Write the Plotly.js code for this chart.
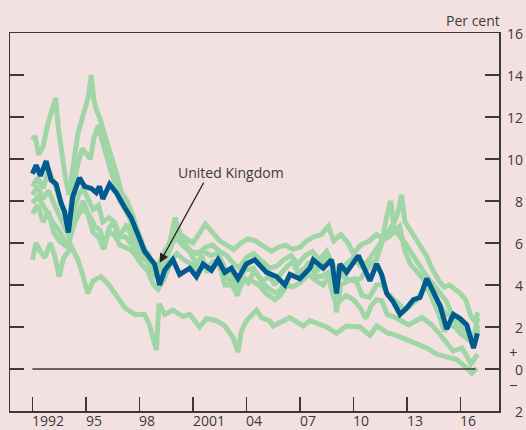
<!DOCTYPE html>
<html>
<head>
<meta charset="utf-8">
<script src="https://cdn.plot.ly/plotly-3.0.1.min.js"></script>
<style>
html,body{margin:0;padding:0;background:#f3e1e2;}
#chart{width:526px;height:430px;}
</style>
</head>
<body>
<div id="chart"></div>
<script>
// ---- Data (decimal years, per cent) ----
const ukYears = [1992.0,1992.21,1992.45,1992.77,1993.05,1993.33,1993.61,1993.8,1994.02,1994.26,1994.64,1994.92,1995.3,1995.58,1995.76,1995.95,1996.33,1996.7,1997.17,1997.54,1997.92,1998.29,1998.57,1998.85,1999.13,1999.42,1999.88,2000.26,2000.82,2001.2,2001.57,2002.04,2002.41,2002.79,2003.16,2003.53,2004.0,2004.47,2005.13,2005.69,2006.16,2006.44,2007.0,2007.56,2007.75,2008.31,2008.78,2009.06,2009.25,2009.62,2010.28,2010.56,2010.93,2011.31,2011.59,2011.87,2012.24,2012.62,2012.99,2013.37,2013.74,2014.12,2014.49,2014.87,2015.24,2015.61,2015.99,2016.36,2016.74,2016.96];
const ukValues = [9.3,9.7,9.2,9.9,9.0,8.8,7.9,7.5,6.5,8.2,9.1,8.7,8.6,8.4,8.7,8.1,8.8,8.4,7.7,7.2,6.4,5.6,5.3,5.0,4.0,4.7,5.2,4.5,4.8,4.4,5.0,4.7,5.2,4.6,4.8,4.3,5.0,5.2,4.6,4.4,4.0,4.5,4.3,4.8,5.2,4.8,5.2,3.6,5.0,4.6,5.4,4.9,4.2,5.0,4.5,3.6,3.2,2.6,2.9,3.3,3.4,4.3,3.6,3.0,1.9,2.6,2.4,2.1,1.0,1.7];

const aYears = [1992.0,1992.15,1992.35,1992.6,1992.85,1993.05,1993.3,1993.45,1993.65,1993.85,1994.05,1994.3,1994.55,1994.75,1994.95,1995.15,1995.3,1995.45,1995.6,1995.8,1996.0,1996.25,1996.5,1996.75,1997.0,1997.3,1997.6,1997.9,1998.2,1998.5,1998.8,1999.05,1999.4,1999.7,2000.0,2000.4,2000.8,2001.2,2001.6,2002.0,2002.4,2002.8,2003.2,2003.5,2003.9,2004.4,2004.9,2005.3,2005.7,2006.1,2006.5,2007.0,2007.5,2008.0,2008.5,2008.9,2009.2,2009.6,2010.0,2010.4,2010.9,2011.3,2011.6,2011.85,2012.1,2012.3,2012.6,2012.9,2013.2,2013.6,2014.0,2014.4,2014.8,2015.1,2015.4,2015.7,2016.0,2016.3,2016.6,2016.8,2017.0];
const aValues = [10.9,11.1,10.2,10.6,11.6,12.2,12.9,11.5,10.2,9.1,8.3,9.8,11.2,11.8,12.4,13.0,14.0,12.8,12.3,11.9,11.3,10.5,9.9,9.2,8.4,8.0,7.4,6.6,5.9,5.4,4.9,4.5,5.0,5.6,6.3,5.9,5.6,5.5,5.6,5.4,5.5,4.8,4.5,4.0,4.7,4.8,4.1,3.8,3.6,4.0,4.5,4.4,5.0,4.7,5.3,4.8,4.6,4.3,4.2,4.3,4.9,5.2,6.0,7.2,8.0,6.6,6.8,5.6,5.0,4.6,4.2,3.4,2.6,1.8,2.1,2.0,1.7,1.5,1.3,1.6,2.1];

const bYears = [1992.0,1992.3,1992.6,1992.9,1993.2,1993.5,1993.8,1994.05,1994.3,1994.55,1994.8,1995.05,1995.25,1995.45,1995.7,1995.9,1996.15,1996.4,1996.65,1996.9,1997.2,1997.5,1997.8,1998.1,1998.45,1998.8,1999.05,1999.4,1999.75,2000.0,2000.3,2000.7,2001.0,2001.4,2001.7,2002.1,2002.5,2002.9,2003.3,2003.7,2004.1,2004.5,2005.0,2005.4,2005.8,2006.2,2006.6,2007.0,2007.4,2007.8,2008.2,2008.6,2008.9,2009.3,2009.7,2010.0,2010.4,2010.9,2011.3,2011.7,2012.0,2012.3,2012.55,2012.7,2012.9,2013.2,2013.5,2013.8,2014.1,2014.4,2014.8,2015.1,2015.4,2015.7,2016.0,2016.3,2016.6,2016.8,2017.0];
const bValues = [8.7,9.1,8.6,9.5,8.9,8.2,7.4,7.1,8.7,9.8,10.5,10.2,10.0,11.0,11.6,10.9,10.2,9.6,8.9,8.0,7.6,7.1,6.3,5.8,5.2,4.6,4.6,5.2,6.2,7.2,6.4,6.2,6.0,6.5,6.9,6.5,6.1,5.9,5.7,6.0,6.2,6.1,5.8,5.6,5.8,5.9,5.7,5.8,6.1,6.3,6.4,6.8,6.1,6.4,6.0,5.5,5.9,6.1,6.4,6.2,6.6,7.0,7.6,8.3,7.0,6.6,6.1,5.7,5.4,4.8,4.2,3.9,4.0,3.8,3.6,3.3,2.5,2.3,2.7];

const cYears = [1992.0,1992.3,1992.6,1992.9,1993.2,1993.5,1993.8,1994.05,1994.3,1994.6,1994.85,1995.1,1995.4,1995.7,1995.95,1996.3,1996.6,1996.9,1997.2,1997.5,1997.8,1998.1,1998.4,1998.75,1999.0,1999.4,1999.8,2000.1,2000.5,2000.9,2001.3,2001.7,2002.1,2002.5,2002.9,2003.3,2003.6,2004.0,2004.4,2004.9,2005.3,2005.7,2006.1,2006.5,2006.9,2007.3,2007.7,2008.1,2008.5,2008.9,2009.2,2009.6,2010.0,2010.4,2010.8,2011.2,2011.6,2012.0,2012.35,2012.9,2013.5,2014.05,2014.6,2015.2,2015.7,2016.3,2016.75,2017.0];
const cValues = [8.3,8.7,8.1,8.5,7.9,7.3,6.7,6.3,7.5,8.3,8.6,8.2,7.6,7.8,7.0,7.2,7.0,6.3,6.3,6.0,5.7,5.3,5.2,4.5,4.4,5.0,5.9,6.4,6.0,5.6,5.5,5.8,5.9,5.6,5.4,5.0,4.8,5.3,5.5,5.1,4.8,4.9,5.2,5.4,5.0,5.4,5.6,5.2,5.6,4.9,4.6,5.0,5.3,4.9,5.1,5.6,6.1,6.3,6.6,6.0,5.2,4.5,3.9,3.25,2.3,1.8,1.3,1.9];

const dYears = [1992.0,1992.3,1992.6,1992.9,1993.2,1993.5,1993.8,1994.0,1994.3,1994.6,1994.85,1995.1,1995.4,1995.7,1996.0,1996.3,1996.55,1996.8,1997.1,1997.3,1997.6,1997.9,1998.2,1998.5,1998.8,1999.0,1999.4,1999.8,2000.1,2000.5,2000.9,2001.2,2001.5,2001.8,2002.1,2002.4,2002.8,2003.2,2003.5,2003.8,2004.1,2004.45,2004.9,2005.3,2005.6,2005.9,2006.3,2006.6,2006.9,2007.3,2007.5,2007.9,2008.2,2008.6,2008.9,2009.05,2009.3,2009.7,2010.1,2010.5,2010.9,2011.3,2011.6,2011.9,2012.35,2012.9,2013.5,2014.05,2014.6,2015.2,2015.8,2016.35,2016.7,2016.97];
const dValues = [7.4,7.8,7.0,7.5,6.5,6.1,5.9,5.8,7.2,7.5,8.0,7.4,6.5,6.3,5.7,6.7,7.0,6.4,6.6,6.9,6.2,5.9,5.6,5.5,4.6,4.8,5.6,6.1,6.6,6.1,5.4,5.0,5.4,4.6,5.1,5.2,4.0,4.0,3.5,4.3,4.1,4.7,4.2,4.4,4.0,4.5,4.9,5.1,4.6,4.8,5.1,4.4,4.4,4.6,4.2,2.7,4.0,4.2,4.3,3.5,3.4,4.0,4.05,3.6,3.25,2.8,3.25,3.9,3.4,2.6,2.45,2.1,1.2,2.45];

const eYears = [1992.0,1992.3,1992.6,1992.9,1993.2,1993.5,1993.8,1994.05,1994.3,1994.6,1994.9,1995.2,1995.5,1995.8,1996.0,1996.3,1996.6,1996.9,1997.2,1997.5,1997.8,1998.1,1998.45,1998.8,1999.05,1999.4,1999.8,2000.1,2000.5,2000.9,2001.3,2001.7,2002.1,2002.4,2002.8,2003.2,2003.5,2003.9,2004.3,2004.7,2005.1,2005.6,2005.9,2006.3,2006.6,2007.0,2007.5,2007.9,2008.3,2008.6,2008.9,2009.2,2009.6,2010.0,2010.4,2010.7,2011.0,2011.3,2011.6,2011.9,2012.35,2013.1,2013.85,2014.4,2015.0,2015.6,2016.1,2016.6,2016.97];
const eValues = [7.9,8.2,7.8,7.3,6.9,6.6,6.1,6.0,6.8,7.4,7.6,7.3,6.8,6.6,6.0,6.5,6.4,5.9,5.8,5.7,5.4,5.0,4.7,4.0,3.8,4.3,5.2,5.5,5.2,5.0,4.7,4.9,5.0,5.1,4.5,4.1,3.7,4.3,4.2,4.0,3.6,3.3,3.5,4.0,3.9,4.1,4.5,4.2,4.0,4.4,3.4,3.2,3.5,3.3,2.9,2.4,3.0,3.3,3.25,2.6,2.45,2.1,2.45,2.1,1.5,0.85,1.0,0.25,0.7];

const fYears = [1992.0,1992.2,1992.45,1992.7,1993.0,1993.25,1993.5,1993.75,1994.2,1994.55,1994.85,1995.1,1995.4,1995.85,1996.3,1996.85,1997.2,1997.75,1998.29,1998.57,1998.85,1998.95,1999.1,1999.42,1999.88,2000.44,2000.82,2001.38,2001.76,2002.32,2002.79,2003.25,2003.53,2003.72,2004.0,2004.57,2004.85,2005.31,2005.5,2006.44,2007.19,2007.56,2008.5,2009.06,2009.62,2010.37,2010.93,2011.31,2011.96,2012.24,2012.99,2013.56,2014.12,2014.68,2015.24,2015.8,2016.36,2016.64,2016.93];
const fValues = [5.2,6.0,5.6,5.3,6.0,5.4,4.4,5.3,5.8,5.2,4.4,3.6,4.2,4.4,4.0,3.3,2.9,2.6,2.6,2.1,1.2,0.9,3.1,2.6,2.8,2.5,2.6,2.0,2.4,2.3,2.05,1.5,0.8,1.8,2.3,2.8,2.45,2.3,2.05,2.45,2.05,2.3,2.0,1.7,2.05,2.0,1.6,2.05,1.7,1.65,1.4,1.2,1.0,0.7,0.55,0.45,0.05,-0.2,0.05];

const xTickVals = [1992,1995,1998,2001,2004,2007,2010,2013,2016];
const xTickText = ['1992','95','98','2001','04','07','10','13','16'];
const yTickVals = [-2,0,2,4,6,8,10,12,14,16];
const yTickText = ['2','0','2','4','6','8','10','12','14','16'];

// ---- Styles ----
const green = '#a0d6a6';
const blue = '#005b8f';
const ink = '#3a3a3a';
const bg = '#f3e1e2';
const fam = '"Open Sans", "Noto Sans", sans-serif';
const font = {family: fam, size: 14, color: ink};

const greens = [[aYears,aValues],[bYears,bValues],[cYears,cValues],[dYears,dValues],[eYears,eValues],[fYears,fValues]];
const traces = greens.map(g => ({
  x: g[0], y: g[1], type: 'scatter', mode: 'lines',
  line: {color: green, width: 5}, hoverinfo: 'skip'
}));
traces.push({x: ukYears, y: ukValues, type: 'scatter', mode: 'lines',
  line: {color: blue, width: 5}, hoverinfo: 'skip'});

// Tick labels as annotations (left-aligned at x ticks, right-aligned at right edge for y)
const annotations = [];
xTickVals.forEach((v, i) => annotations.push({
  xref: 'x', yref: 'paper', x: v, y: 0, xanchor: 'left', yanchor: 'top',
  xshift: -2, yshift: 2, text: xTickText[i], showarrow: false, font: font
}));
yTickVals.forEach((v, i) => annotations.push({
  xref: 'paper', yref: 'y', x: 1, y: v, xanchor: 'right', yanchor: 'middle',
  xshift: 26, text: yTickText[i], showarrow: false, font: font
}));
annotations.push(
  {xref: 'paper', yref: 'paper', x: 1.0, y: 1.0, xanchor: 'right', yanchor: 'bottom',
   xshift: 3, yshift: 1, text: 'Per cent', showarrow: false, font: font},
  {xref: 'paper', yref: 'y', x: 1.0, y: 0.8, xanchor: 'center', yanchor: 'middle',
   xshift: 14, text: '+', showarrow: false, font: {family: fam, size: 15, color: ink}},
  {xref: 'paper', yref: 'y', x: 1.0, y: -0.78, xanchor: 'center', yanchor: 'middle',
   xshift: 14, text: '\u2212', showarrow: false, font: {family: fam, size: 15, color: ink}},
  {xref: 'x', yref: 'y', x: 2003.13, y: 9.35, text: 'United Kingdom', showarrow: false,
   xanchor: 'center', yanchor: 'middle', font: font},
  {xref: 'x', yref: 'y', x: 1999.14, y: 5.06, ax: 45, ay: -82, text: ' ',
   showarrow: true, arrowhead: 2, arrowsize: 1.4, arrowwidth: 1.3, arrowcolor: '#222',
   font: {size: 1}}
);

const layout = {
  width: 526, height: 430,
  margin: {l: 10, r: 27, t: 33, b: 19, pad: 0},
  paper_bgcolor: bg, plot_bgcolor: bg,
  showlegend: false,
  font: font,
  xaxis: {
    range: [1990.743, 2018.17], showgrid: false, zeroline: false,
    showline: true, linecolor: ink, linewidth: 1.5, mirror: true,
    ticks: 'inside', ticklen: 14, tickwidth: 1.5, tickcolor: ink,
    tickvals: xTickVals, showticklabels: false, fixedrange: true
  },
  yaxis: {
    range: [-2, 16], side: 'right', showgrid: false, zeroline: false,
    showline: true, linecolor: ink, linewidth: 1.5, mirror: 'ticks',
    ticks: 'inside', ticklen: 14, tickwidth: 1.5, tickcolor: ink,
    tickvals: yTickVals, showticklabels: false, fixedrange: true
  },
  shapes: [{
    type: 'line', xref: 'x', yref: 'y', x0: 1992.0, x1: 2016.85, y0: 0, y1: 0,
    line: {color: ink, width: 1.5}
  }],
  annotations: annotations
};

Plotly.newPlot('chart', traces, layout, {staticPlot: true, displayModeBar: false});
</script>
</body>
</html>
